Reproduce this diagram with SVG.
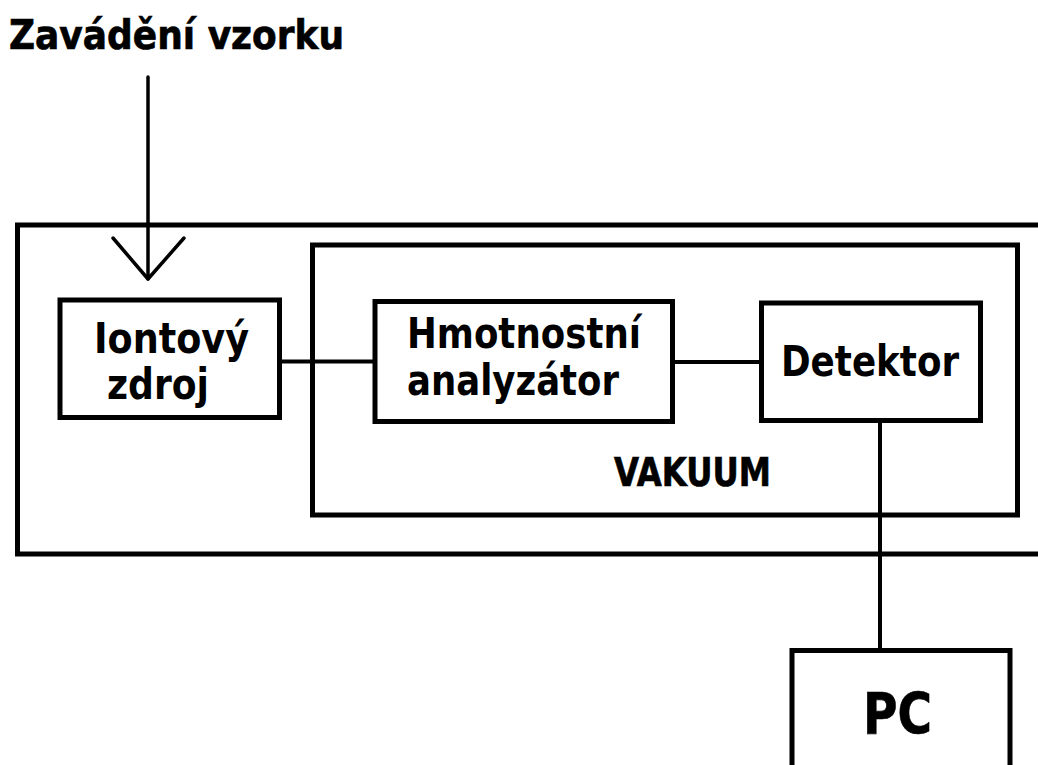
<svg xmlns="http://www.w3.org/2000/svg" width="1038" height="765" viewBox="0 0 1038 765">
  <style>
    .box { fill: none; stroke: #000; stroke-width: 5; }
    .node-box { fill: #fff; stroke: #000; stroke-width: 5; }
    .wire { fill: none; stroke: #000; stroke-width: 4; }
    .feed { fill: none; stroke: #000; stroke-width: 3.5; stroke-linecap: round; stroke-linejoin: round; }
    .lbl { font-family: "DejaVu Sans", Verdana, sans-serif; font-weight: bold; fill: #000; }
    .heavy { stroke: #000; stroke-width: 0.7; }
  </style>
  <rect width="1038" height="765" fill="#fff"/>

  <!-- enclosures -->
  <g id="outer-housing">
    <rect class="box" x="17.5" y="225" width="1040" height="329"/>
  </g>
  <g id="vacuum-chamber">
    <rect class="box" x="312.5" y="245" width="705" height="270"/>
    <text class="lbl heavy" x="614" y="486" font-size="39" textLength="157" lengthAdjust="spacingAndGlyphs">VAKUUM</text>
  </g>

  <!-- connectors -->
  <g id="connectors">
    <line class="wire" x1="279" y1="361.5" x2="375" y2="361.5"/>
    <line class="wire" x1="672" y1="362" x2="761" y2="362"/>
    <line class="wire" x1="880" y1="420" x2="880" y2="650"/>
    <line class="feed" x1="148" y1="77" x2="148" y2="279"/>
    <polyline class="feed" points="113,238 148,279 184,238"/>
  </g>

  <g id="sample-inlet">
    <text class="lbl heavy" x="9" y="49" font-size="40.5" textLength="335" lengthAdjust="spacingAndGlyphs">Zavádění vzorku</text>
  </g>

  <g id="ion-source">
    <rect class="node-box" x="60" y="300" width="219.5" height="117.5"/>
    <text class="lbl" x="94" y="353" font-size="43" textLength="155" lengthAdjust="spacingAndGlyphs">Iontový</text>
    <text class="lbl" x="107" y="399" font-size="43" textLength="102" lengthAdjust="spacingAndGlyphs">zdroj</text>
  </g>

  <g id="mass-analyzer">
    <rect class="node-box" x="375" y="301.5" width="297.5" height="120"/>
    <text class="lbl" x="407" y="348" font-size="42" textLength="234" lengthAdjust="spacingAndGlyphs">Hmotnostní</text>
    <text class="lbl" x="407" y="395" font-size="42" textLength="212" lengthAdjust="spacingAndGlyphs">analyzátor</text>
  </g>

  <g id="detector">
    <rect class="node-box" x="761.5" y="303" width="219" height="117.5"/>
    <text class="lbl" x="781" y="376" font-size="43" textLength="178" lengthAdjust="spacingAndGlyphs">Detektor</text>
  </g>

  <g id="pc">
    <rect class="node-box" x="792" y="650.5" width="218" height="140"/>
    <text class="lbl heavy" x="863" y="734" font-size="57" textLength="69" lengthAdjust="spacingAndGlyphs">PC</text>
  </g>
</svg>
